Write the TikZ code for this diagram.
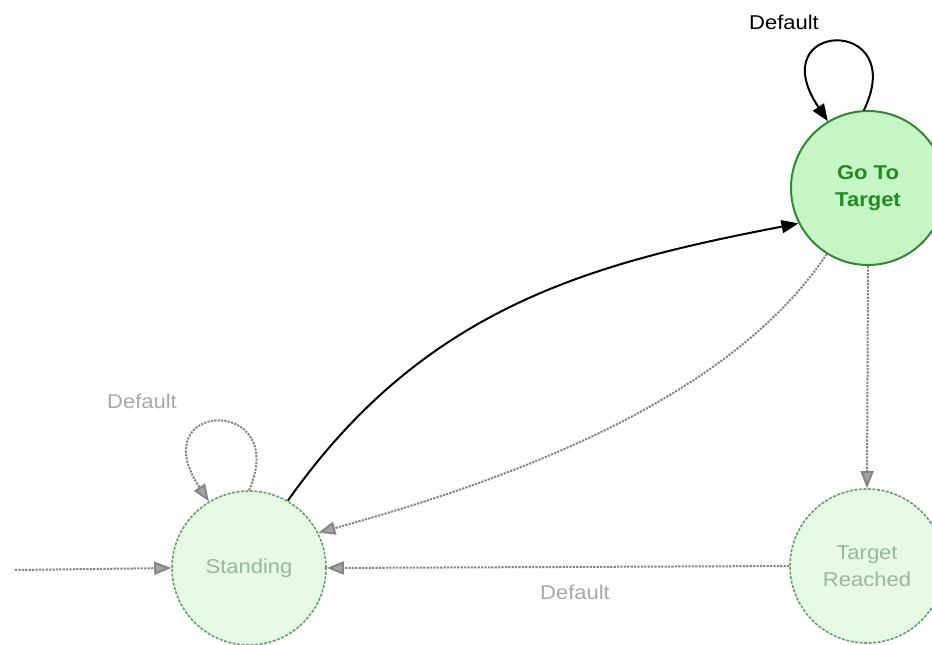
\documentclass[tikz,border=0pt]{standalone}
\usepackage{fontspec}
\setmainfont{Liberation Sans}[FakeStretch=1.1]
\usetikzlibrary{arrows.meta}

\definecolor{activefill}{HTML}{C6F5C6}
\definecolor{activeline}{HTML}{2F8A2F}
\definecolor{activetext}{HTML}{1F8C1F}
\definecolor{idlefill}{HTML}{E6FAE6}
\definecolor{idleline}{HTML}{5FA45F}
\definecolor{idletext}{HTML}{98B898}
\definecolor{idleedge}{HTML}{858585}
\definecolor{idlelabel}{HTML}{A8A8A8}

\tikzset{
  statefont/.style={font=\fontsize{20}{27}\selectfont},
  activestate/.style={circle, minimum size=154pt, inner sep=0pt, align=center,
    fill=activefill, draw=activeline, line width=2pt, text=activetext,
    font=\fontsize{20}{27}\selectfont\bfseries},
  idlestate/.style={circle, minimum size=154pt, inner sep=0pt, align=center,
    fill=idlefill, draw=idleline, line width=1.6pt, dash pattern=on 3pt off 1.5pt,
    text=idletext, statefont},
  activeedge/.style={draw=black, line width=2pt,
    -{Triangle[length=17pt,width=13pt]}},
  idleedgestyle/.style={draw=idleedge, line width=2pt, dash pattern=on 2.2pt off 1.2pt,
    -{Triangle[length=17pt,width=13pt,fill=idleedge!75]}},
  activelabel/.style={text=black, statefont},
  idlelabelstyle/.style={text=idlelabel, statefont},
}

\begin{document}
\begin{tikzpicture}[x=1pt, y=-1pt]
  \useasboundingbox (0,0) rectangle (932,645);

  % states
  \node[activestate] (go) at (868,188) {Go To\\Target};
  \node[idlestate] (st) at (249,568) {Standing};
  \node[idlestate] (re) at (867,566) {Target\\Reached};

  % entry point
  \coordinate (entry) at (15,570);
  \draw[idleedgestyle] (entry) -- (st.west);

  % Go To Target: self loop
  \draw[activeedge] (go.93) .. controls (910,15) and (760,20) .. (go.121);
  \node[activelabel] (goloop) at (784,22) {Default};

  % Standing: self loop
  \draw[idleedgestyle] (st.90) .. controls (291,395) and (141,400) .. (st.121);
  \node[idlelabelstyle] (stloop) at (142,401) {Default};

  % Standing -> Go To Target
  \draw[activeedge] (st.60) .. controls (425,306) and (593,263) .. (go.207);

  % Go To Target -> Standing
  \draw[idleedgestyle] (go.238) .. controls (730,399) and (513,479) .. (st.27);

  % Go To Target -> Target Reached
  \draw[idleedgestyle] (go.south) -- (re.north);

  % Target Reached -> Standing
  \draw[idleedgestyle] (re.west) -- (st.east);
  \node[idlelabelstyle] (reback) at (575,592) {Default};
\end{tikzpicture}
\end{document}
